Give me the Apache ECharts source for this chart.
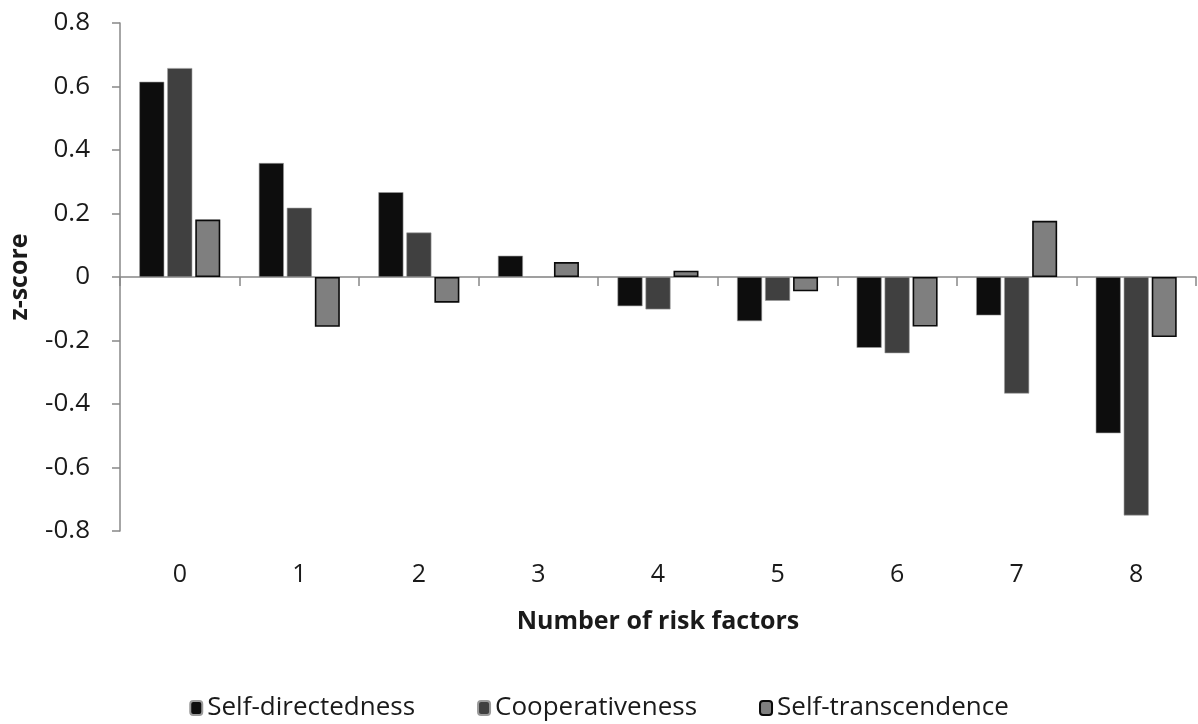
<!DOCTYPE html>
<html>
<head>
<meta charset="utf-8">
<script src="https://cdn.jsdelivr.net/npm/echarts@6/dist/echarts.min.js"></script>
<style>
html,body{margin:0;padding:0;background:#fff;}
#chart{width:1198px;height:724px;}
</style>
</head>
<body>
<div id="chart"></div>
<script>
const categories = ['0','1','2','3','4','5','6','7','8'];
const selfDirectedness = [0.615, 0.359, 0.267, 0.067, -0.092, -0.139, -0.223, -0.121, -0.492];
const cooperativeness = [0.658, 0.218, 0.140, 0, -0.102, -0.075, -0.240, -0.367, -0.751];
const selfTranscendence = [0.181, -0.157, -0.081, 0.047, 0.020, -0.045, -0.156, 0.177, -0.189];
const seriesNames = ['Self-directedness', 'Cooperativeness', 'Self-transcendence'];

const FONT = 'Open Sans';
const chart = echarts.init(document.getElementById('chart'));
chart.setOption({
  backgroundColor: '#ffffff',
  animation: false,
  textStyle: { fontFamily: FONT },
  grid: { left: 120, right: 2, top: 23, bottom: 193, containLabel: false, outerBoundsMode: 'none' },
  legend: {
    data: seriesNames,
    left: 'center',
    top: 690,
    itemWidth: 12,
    itemHeight: 14,
    itemGap: 62,
    textStyle: { fontFamily: FONT, fontSize: 26, color: '#1a1a1a' }
  },
  xAxis: [
    {
      type: 'category',
      data: categories,
      axisLine: { onZero: true, lineStyle: { color: '#888888', width: 1.5 } },
      axisTick: { show: true, alignWithLabel: false, length: 9, lineStyle: { color: '#888888', width: 1.5 } },
      axisLabel: { show: false },
      splitLine: { show: false }
    },
    {
      type: 'category',
      data: categories,
      position: 'bottom',
      axisLine: { show: false, onZero: false },
      axisTick: { show: false },
      axisLabel: { show: true, margin: 31, fontFamily: FONT, fontSize: 25, color: '#1a1a1a' },
      name: 'Number of risk factors',
      nameLocation: 'middle',
      nameGap: 78,
      nameTextStyle: { fontFamily: FONT, fontSize: 25, fontWeight: 'bold', color: '#1a1a1a', verticalAlign: 'top' },
      splitLine: { show: false }
    }
  ],
  yAxis: {
    type: 'value',
    min: -0.8,
    max: 0.8,
    interval: 0.2,
    axisLine: { show: true, lineStyle: { color: '#888888', width: 1.5 } },
    axisTick: { show: true, length: 8, lineStyle: { color: '#888888', width: 1.5 } },
    splitLine: { show: false },
    axisLabel: {
      margin: 30,
      fontFamily: FONT,
      fontSize: 26,
      color: '#1a1a1a',
      formatter: function (v) { return String(Number(v.toFixed(1))); }
    },
    name: 'z-score',
    nameLocation: 'middle',
    nameGap: 88,
    nameTextStyle: { fontFamily: FONT, fontSize: 25, fontWeight: 'bold', color: '#1a1a1a' }
  },
  series: [
    {
      name: seriesNames[0], type: 'bar', xAxisIndex: 0, data: selfDirectedness,
      barWidth: 25, barGap: '12%',
      itemStyle: { color: '#0d0d0d', borderColor: '#9a9a9a', borderWidth: 0.6 }
    },
    {
      name: seriesNames[1], type: 'bar', xAxisIndex: 0, data: cooperativeness,
      barWidth: 25, barGap: '12%',
      itemStyle: { color: '#404040', borderColor: '#9a9a9a', borderWidth: 0.6 }
    },
    {
      name: seriesNames[2], type: 'bar', xAxisIndex: 0, data: selfTranscendence,
      barWidth: 25, barGap: '12%',
      itemStyle: { color: '#7f7f7f', borderColor: '#0a0a0a', borderWidth: 1.6 }
    }
  ]
});
</script>
</body>
</html>
